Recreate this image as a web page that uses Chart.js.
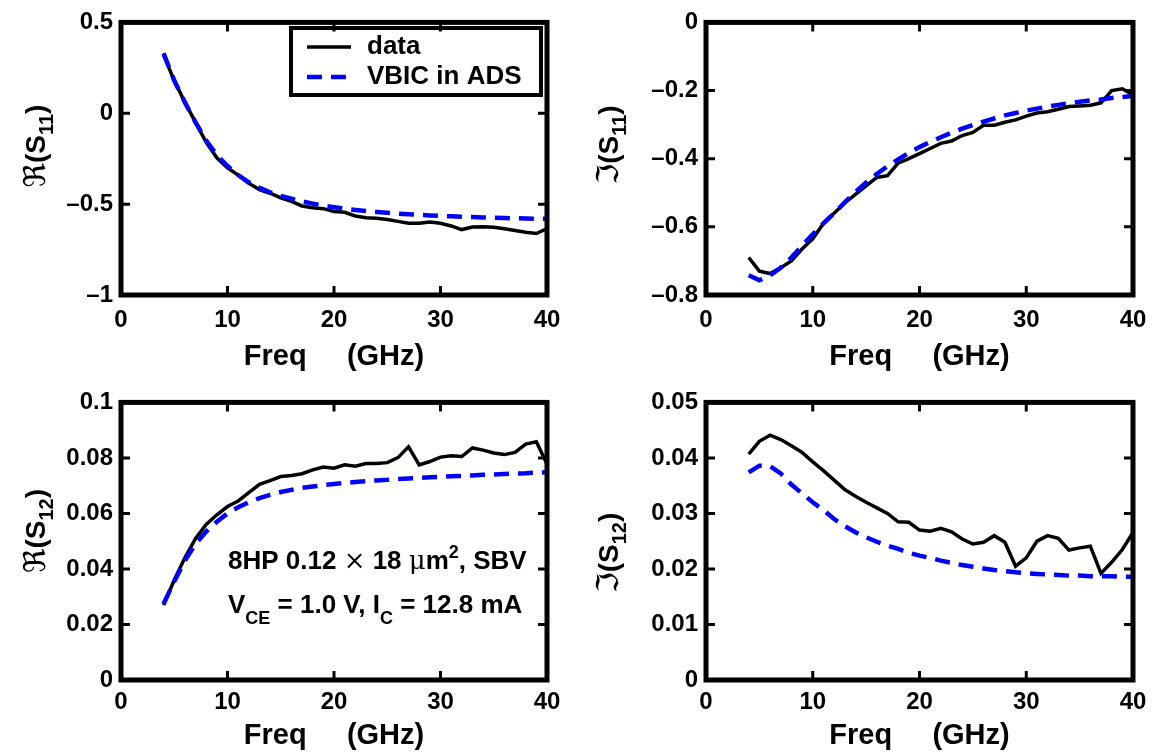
<!DOCTYPE html>
<html>
<head>
<meta charset="utf-8">
<script src="https://cdn.jsdelivr.net/npm/chart.js@4.4.0/dist/chart.umd.min.js"></script>
<style>
  html, body { margin: 0; padding: 0; background: #fff; }
  body { width: 1159px; height: 755px; position: relative; overflow: hidden; }
  canvas { position: absolute; }
</style>
</head>
<body>
<canvas id="c1" width="580" height="380" style="left:0;top:0"></canvas>
<canvas id="c2" width="579" height="380" style="left:580px;top:0"></canvas>
<canvas id="c3" width="580" height="375" style="left:0;top:380px"></canvas>
<canvas id="c4" width="579" height="375" style="left:580px;top:380px"></canvas>
<script>
// frequency points (GHz)
const freq = [4, 5, 6, 7, 8, 9, 10, 11, 12, 13, 14, 15, 16, 17, 18, 19, 20, 21, 22,
  23, 24, 25, 26, 27, 28, 29, 30, 31, 32, 33, 34, 35, 36, 37, 38, 39, 40];

// Re(S11)
const reS11Data = [0.32, 0.18, 0.06, -0.05, -0.16, -0.245, -0.30, -0.34, -0.385, -0.42, -0.44,
  -0.465, -0.485, -0.51, -0.52, -0.525, -0.54, -0.545, -0.565, -0.575, -0.578, -0.585, -0.595,
  -0.605, -0.605, -0.598, -0.605, -0.62, -0.64, -0.626, -0.625, -0.627, -0.635, -0.645, -0.655,
  -0.662, -0.635];
const reS11Model = [0.33, 0.18, 0.06, -0.05, -0.15, -0.23, -0.29, -0.34, -0.38, -0.41, -0.435,
  -0.455, -0.47, -0.485, -0.497, -0.508, -0.517, -0.525, -0.532, -0.538, -0.543, -0.548, -0.552,
  -0.556, -0.559, -0.562, -0.565, -0.567, -0.569, -0.571, -0.573, -0.575, -0.576, -0.578, -0.579,
  -0.58, -0.581];

// Im(S11)
const imS11Data = [-0.69, -0.73, -0.737, -0.72, -0.70, -0.665, -0.635, -0.59, -0.56, -0.53, -0.505,
  -0.48, -0.455, -0.45, -0.413, -0.40, -0.385, -0.37, -0.355, -0.348, -0.332, -0.323, -0.302,
  -0.302, -0.293, -0.286, -0.275, -0.266, -0.262, -0.255, -0.247, -0.245, -0.243, -0.236, -0.20,
  -0.195, -0.213];
const imS11Model = [-0.742, -0.757, -0.742, -0.72, -0.69, -0.655, -0.622, -0.59, -0.56, -0.528,
  -0.498, -0.47, -0.445, -0.422, -0.402, -0.383, -0.366, -0.351, -0.337, -0.324, -0.312, -0.301,
  -0.291, -0.282, -0.273, -0.266, -0.259, -0.253, -0.247, -0.242, -0.237, -0.233, -0.229, -0.226,
  -0.222, -0.219, -0.216];

// Re(S12)
const reS12Data = [0.027, 0.036, 0.044, 0.051, 0.056, 0.0595, 0.0625, 0.0645, 0.0675, 0.0705,
  0.0718, 0.0733, 0.0737, 0.0743, 0.0757, 0.0767, 0.0763, 0.0775, 0.077, 0.078, 0.078, 0.0783,
  0.0801, 0.084, 0.0775, 0.0787, 0.0803, 0.0808, 0.0805, 0.0836, 0.0828, 0.0818, 0.0812, 0.082,
  0.085, 0.0858, 0.0778];
const reS12Model = [0.0275, 0.0355, 0.043, 0.049, 0.0535, 0.057, 0.06, 0.0622, 0.064, 0.0655,
  0.0667, 0.0677, 0.0685, 0.0692, 0.0697, 0.0702, 0.0706, 0.071, 0.0713, 0.0716, 0.0719, 0.0721,
  0.0724, 0.0726, 0.0728, 0.073, 0.0732, 0.0734, 0.0735, 0.0737, 0.0739, 0.074, 0.0742, 0.0744,
  0.0745, 0.0747, 0.0748];

// Im(S12)
const imS12Data = [0.0407, 0.043, 0.0441, 0.0433, 0.0422, 0.041, 0.0393, 0.0377, 0.036, 0.0343,
  0.0331, 0.032, 0.031, 0.03, 0.0285, 0.0284, 0.027, 0.0268, 0.0273, 0.0267, 0.0254, 0.0245,
  0.0248, 0.026, 0.0248, 0.0205, 0.022, 0.025, 0.026, 0.0255, 0.0234, 0.0238, 0.0241, 0.0192,
  0.0212, 0.0235, 0.0266];
const imS12Model = [0.0374, 0.0386, 0.0385, 0.0372, 0.0352, 0.0336, 0.032, 0.0306, 0.029, 0.0277,
  0.0266, 0.0257, 0.0249, 0.0242, 0.0236, 0.0229, 0.0224, 0.022, 0.0215, 0.0211, 0.0207, 0.0204,
  0.0201, 0.0198, 0.0196, 0.0194, 0.0192, 0.0191, 0.019, 0.0189, 0.0188, 0.0188, 0.0187, 0.0187,
  0.0187, 0.0186, 0.0186];

// tick values
const xTicks = [0, 10, 20, 30, 40];
const yTicksReS11 = [-1, -0.5, 0, 0.5];
const yTicksImS11 = [-0.8, -0.6, -0.4, -0.2, 0];
const yTicksReS12 = [0, 0.02, 0.04, 0.06, 0.08, 0.1];
const yTicksImS12 = [0, 0.01, 0.02, 0.03, 0.04, 0.05];

const FONT = '"Liberation Sans", Arial, Helvetica, sans-serif';
const SYM = '"DejaVu Serif", "DejaVu Sans", serif';

Chart.defaults.font.family = FONT;
Chart.defaults.color = '#000';

// draw a row of text pieces (text, font, dy)
function drawRuns(ctx, runs, x, y, centered) {
  let w = 0;
  runs.forEach(r => { ctx.font = r[1]; w += ctx.measureText(r[0]).width; });
  let cx = centered ? x - w / 2 : x;
  runs.forEach(r => {
    ctx.font = r[1];
    ctx.fillText(r[0], cx, y + (r[2] || 0));
    cx += ctx.measureText(r[0]).width;
  });
}

// matlab style box, inward ticks, y label, legend, notes
const matlabBox = {
  id: 'matlabBox',
  afterDatasetsDraw(chart, args, opts) {
    const { ctx, chartArea: a, scales: { x, y } } = chart;
    ctx.save();
    ctx.strokeStyle = '#000';
    ctx.fillStyle = '#000';
    ctx.lineWidth = 3;
    ctx.beginPath();
    x.ticks.forEach(t => {
      const px = x.getPixelForValue(t.value);
      ctx.moveTo(px, a.bottom); ctx.lineTo(px, a.bottom - 9);
      ctx.moveTo(px, a.top); ctx.lineTo(px, a.top + 9);
    });
    y.ticks.forEach(t => {
      const py = y.getPixelForValue(t.value);
      ctx.moveTo(a.left, py); ctx.lineTo(a.left + 9, py);
      ctx.moveTo(a.right, py); ctx.lineTo(a.right - 9, py);
    });
    ctx.stroke();
    ctx.lineWidth = 5;
    ctx.strokeRect(a.left, a.top, a.right - a.left, a.bottom - a.top);

    // y label with subscript
    const lab = opts.ylab;
    ctx.save();
    ctx.translate(lab.x, lab.y);
    ctx.rotate(-Math.PI / 2);
    ctx.textBaseline = 'alphabetic';
    drawRuns(ctx, [
      [lab.sym, 'normal 30px ' + SYM, 0],
      ['(S', 'bold 28px ' + FONT, 0],
      [lab.sub, 'bold 20px ' + FONT, 8],
      [')', 'bold 28px ' + FONT, 0]
    ], 0, 0, true);
    ctx.restore();

    if (opts.legend) {
      const L = opts.legend;
      ctx.lineWidth = 4;
      ctx.strokeRect(L.x, L.y, L.w, L.h);
      ctx.textBaseline = 'middle';
      ctx.font = 'bold 26px ' + FONT;
      chart.data.datasets.forEach((ds, i) => {
        const ry = L.y + L.rows[i];
        ctx.save();
        ctx.strokeStyle = ds.borderColor;
        ctx.lineWidth = ds.borderWidth;
        ctx.setLineDash(ds.borderDash || []);
        ctx.beginPath();
        ctx.moveTo(L.x + 16, ry); ctx.lineTo(L.x + 60, ry);
        ctx.stroke();
        ctx.restore();
        ctx.fillText(ds.label, L.x + 76, ry);
      });
    }

    if (opts.notes) {
      ctx.textBaseline = 'alphabetic';
      opts.notes.forEach(n => drawRuns(ctx, n.runs, n.x, n.y, false));
    }
    ctx.restore();
  }
};

function fmt(v) {
  return String(v).replace('-', '\u2013');
}

function makePanel(id, p) {
  const toXY = arr => freq.map((f, i) => ({ x: f, y: arr[i] }));
  new Chart(document.getElementById(id), {
    type: 'line',
    data: {
      datasets: [
        { label: 'data', data: toXY(p.data), borderColor: '#000000', borderWidth: 3.5,
          pointRadius: 0, tension: 0, fill: false, order: 1 },
        { label: 'VBIC in ADS', data: toXY(p.model), borderColor: '#0000ff', borderWidth: 4.5,
          borderDash: [15, 9], pointRadius: 0, tension: 0, fill: false, order: 0 }
      ]
    },
    options: {
      responsive: false,
      animation: false,
      devicePixelRatio: 1,
      layout: { padding: p.pad },
      plugins: {
        legend: { display: false },
        tooltip: { enabled: false },
        matlabBox: { ylab: p.ylab, legend: p.legend, notes: p.notes }
      },
      scales: {
        x: {
          type: 'linear', min: 0, max: 40,
          grid: { display: false, drawTicks: false },
          border: { display: false },
          afterBuildTicks: s => { s.ticks = xTicks.map(v => ({ value: v })); },
          afterFit: s => { s.height = p.xh; },
          ticks: { autoSkip: false, maxRotation: 0, padding: p.xpad,
                   font: { size: 24, weight: 'bold' }, callback: v => fmt(v) },
          title: { display: true, text: 'Freq     (GHz)', font: { size: 29, weight: 'bold' },
                   padding: { top: 0, bottom: p.tpad } }
        },
        y: {
          type: 'linear', min: p.ymin, max: p.ymax,
          grid: { display: false, drawTicks: false },
          border: { display: false },
          afterBuildTicks: s => { s.ticks = p.yticks.map(v => ({ value: v })); },
          afterFit: s => { s.width = p.yw; },
          ticks: { autoSkip: false, padding: 8, font: { size: 24, weight: 'bold' },
                   callback: v => fmt(v) }
        }
      }
    },
    plugins: [matlabBox]
  });
}

makePanel('c1', {
  data: reS11Data, model: reS11Model, ymin: -1, ymax: 0.5, yticks: yTicksReS11,
  pad: { top: 16, right: 33, bottom: 0, left: 0 }, yw: 121, xh: 85, xpad: 11, tpad: 6,
  ylab: { sym: '\u211C', sub: '11', x: 45, y: 146 },
  legend: { x: 291, y: 28, w: 250, h: 67, rows: [19, 49] }
});

makePanel('c2', {
  data: imS11Data, model: imS11Model, ymin: -0.8, ymax: 0, yticks: yTicksImS11,
  pad: { top: 15, right: 26, bottom: 0, left: 0 }, yw: 126, xh: 85, xpad: 11, tpad: 6,
  ylab: { sym: '\u2111', sub: '11', x: 38, y: 145 }
});

makePanel('c3', {
  data: reS12Data, model: reS12Model, ymin: 0, ymax: 0.1, yticks: yTicksReS12,
  pad: { top: 20, right: 33, bottom: 0, left: 0 }, yw: 121, xh: 75, xpad: 8, tpad: 2,
  ylab: { sym: '\u211C', sub: '12', x: 45, y: 151 },
  notes: [
    { x: 228, y: 189, runs: [
      ['8HP 0.12 ', 'bold 26px ' + FONT],
      ['\u00D7', 'normal 26px ' + SYM],
      [' 18 ', 'bold 26px ' + FONT],
      ['\u03BC', 'normal 26px ' + SYM],
      ['m', 'bold 26px ' + FONT],
      ['2', 'bold 18px ' + FONT, -11],
      [', SBV', 'bold 26px ' + FONT]
    ] },
    { x: 228, y: 233, runs: [
      ['V', 'bold 26px ' + FONT],
      ['CE', 'bold 18px ' + FONT, 11],
      [' = 1.0 V, I', 'bold 26px ' + FONT],
      ['C', 'bold 18px ' + FONT, 11],
      [' = 12.8 mA', 'bold 26px ' + FONT]
    ] }
  ]
});

makePanel('c4', {
  data: imS12Data, model: imS12Model, ymin: 0, ymax: 0.05, yticks: yTicksImS12,
  pad: { top: 20, right: 26, bottom: 0, left: 0 }, yw: 126, xh: 75, xpad: 8, tpad: 2,
  ylab: { sym: '\u2111', sub: '12', x: 38, y: 173 }
});
</script>
</body>
</html>
